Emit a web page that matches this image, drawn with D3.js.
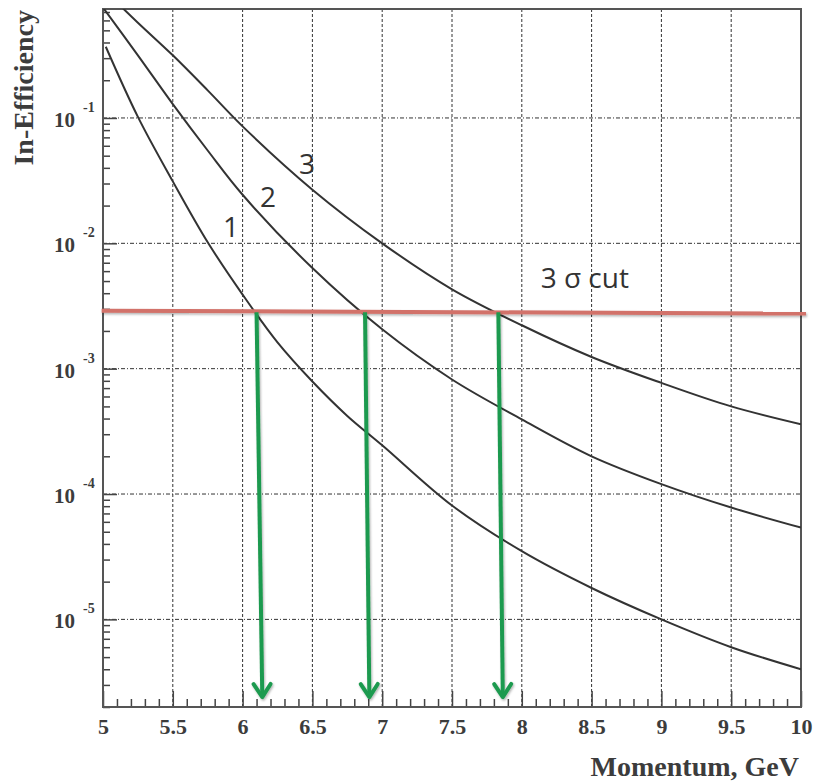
<!DOCTYPE html>
<meta charset="utf-8">
<script src="https://d3js.org/d3.v7.min.js"></script>
<style>
  body { margin: 0; background: #fff; }
  .tick-lbl { font-family: "Liberation Serif", "DejaVu Serif", serif; font-weight: bold; fill: #3c3c3c; }
  .ann { font-family: "Open Sans", "Liberation Sans", sans-serif; fill: #333; }
</style>
<div id="chart"></div>
<script>
// momentum (GeV) and in-efficiency
var p1 = [5.02, 5.25, 5.5, 5.75, 6, 6.25, 6.5, 6.75, 7, 7.5, 8, 8.5, 9, 9.5, 10];
var eff1 = [3.7e-1, 1.02e-1, 3.12e-2, 1.02e-2, 3.9e-3, 1.62e-3, 7.9e-4, 4.2e-4, 2.45e-4, 8.1e-5, 3.5e-5, 1.78e-5, 1.0e-5, 6.0e-6, 4.0e-6];

var p2 = [5, 5.25, 5.5, 5.75, 6, 6.5, 7, 7.5, 8, 8.5, 9, 9.5, 10];
var eff2 = [7.6e-1, 3.16e-1, 1.29e-1, 5.5e-2, 2.44e-2, 6.35e-3, 2.06e-3, 8.2e-4, 3.94e-4, 2.0e-4, 1.2e-4, 7.8e-5, 5.4e-5];

var p3 = [5, 5.25, 5.5, 5.75, 6, 6.5, 7, 7.5, 8, 8.5, 9, 9.5, 10];
var eff3 = [1.07, 5.75e-1, 3.16e-1, 1.66e-1, 8.57e-2, 2.68e-2, 1.0e-2, 4.3e-3, 2.22e-3, 1.24e-3, 7.7e-4, 5.0e-4, 3.6e-4];

// 3 sigma cut line and the arrows dropped from its crossings
var cutP = [4.99, 10.036];
var cutEff = [2.9e-3, 2.75e-3];
var arrowTopP = [6.10, 6.877, 7.832];
var arrowTipP = [6.141, 6.908, 7.864];
var arrowTopEff = 2.82e-3;
var arrowTipEff = 2.4e-6;

// curve labels
var labelText = ["1", "2", "3", "3 \u03c3 cut"];
var labelP = [5.86, 6.125, 6.404, 8.135];
var labelEff = [1.13e-2, 1.96e-2, 3.59e-2, 4.43e-3];

// axes
var xMajor = [5, 5.5, 6, 6.5, 7, 7.5, 8, 8.5, 9, 9.5, 10];
var xMajorLabels = ["5", "5.5", "6", "6.5", "7", "7.5", "8", "8.5", "9", "9.5", "10"];
var yDecades = [1e-1, 1e-2, 1e-3, 1e-4, 1e-5];
var yExponents = ["-1", "-2", "-3", "-4", "-5"];

//----------------drawing---------------------
var margin = {top: 9, left: 103}, width = 698, height = 698;

var x = d3.scaleLinear().domain([5, 10]).range([0, width]);
var y = d3.scaleLog().domain([2e-6, 0.74]).range([height, 0]);

var svg = d3.select("#chart")
  .append("svg")
  .attr("width", 815)
  .attr("height", 783);

var defs = svg.append("defs");
defs.append("clipPath").attr("id", "plotclip")
  .append("rect").attr("width", width).attr("height", height);

// soft shadow under the hand-drawn red / green marks
defs.append("filter").attr("id", "shadow")
  .attr("filterUnits", "userSpaceOnUse")
  .attr("x", -120).attr("y", -20).attr("width", 960).attr("height", 760)
  .append("feDropShadow")
  .attr("dx", 1).attr("dy", 1.5).attr("stdDeviation", 1.3)
  .attr("flood-color", "#000").attr("flood-opacity", 0.3);

defs.append("marker").attr("id", "head")
  .attr("markerUnits", "userSpaceOnUse")
  .attr("viewBox", "-18 -12 22 24")
  .attr("refX", 0).attr("refY", 0)
  .attr("markerWidth", 22).attr("markerHeight", 24)
  .attr("orient", "auto")
  .append("path")
  .attr("d", "M-13,-8.5L0,0L-13,8.5")
  .attr("fill", "none")
  .attr("stroke", "#1f9a4f")
  .attr("stroke-width", 4)
  .attr("stroke-linecap", "round")
  .attr("stroke-linejoin", "round");

var g = svg.append("g")
  .attr("transform", "translate(" + margin.left + "," + margin.top + ")");

// minor tick values
var xMinor = d3.range(51, 100).map(function(d) { return d / 10; })
  .filter(function(d) { return Math.abs(d * 2 - Math.round(d * 2)) > 1e-6; });
var yMinor = [];
[1e-6, 1e-5, 1e-4, 1e-3, 1e-2, 1e-1].forEach(function(dec) {
  for (var k = 2; k <= 9; k++) {
    var v = dec * k;
    if (v >= 2e-6 && v <= 0.74) yMinor.push(v);
  }
});

// grid
g.append("g").selectAll("line")
  .data(xMajor.slice(1, -1))
  .enter().append("line")
  .attr("x1", function(d) { return x(d); })
  .attr("x2", function(d) { return x(d); })
  .attr("y1", 0).attr("y2", height)
  .attr("stroke", "#333").attr("stroke-width", 1)
  .attr("stroke-dasharray", "3,2");

g.append("g").selectAll("line")
  .data(yDecades)
  .enter().append("line")
  .attr("x1", 0).attr("x2", width)
  .attr("y1", function(d) { return y(d); })
  .attr("y2", function(d) { return y(d); })
  .attr("stroke", "#333").attr("stroke-width", 1)
  .attr("stroke-dasharray", "4,2,1,2");

// ticks (inside the frame)
g.append("g")
  .attr("transform", "translate(0," + height + ")")
  .call(d3.axisBottom(x).tickValues(xMinor).tickSize(-8).tickFormat(""))
  .call(function(a) { a.select(".domain").remove(); a.selectAll("line").attr("stroke", "#444").attr("stroke-width", 1.5); });

var xAx = g.append("g")
  .attr("transform", "translate(0," + height + ")")
  .call(d3.axisBottom(x).tickValues(xMajor).tickSize(-16).tickPadding(11)
    .tickFormat(function(d, i) { return xMajorLabels[i]; }));
xAx.select(".domain").remove();
xAx.selectAll("line").attr("stroke", "#444").attr("stroke-width", 1.5);
xAx.selectAll("text").attr("class", "tick-lbl").style("font-size", "22px").attr("fill", null);

g.append("g")
  .call(d3.axisLeft(y).tickValues(yMinor).tickSize(-7).tickFormat(""))
  .call(function(a) { a.select(".domain").remove(); a.selectAll("line").attr("stroke", "#444").attr("stroke-width", 1.5); });

g.append("g")
  .call(d3.axisLeft(y).tickValues(yDecades).tickSize(-14).tickFormat(""))
  .call(function(a) { a.select(".domain").remove(); a.selectAll("line").attr("stroke", "#444").attr("stroke-width", 1.5); });

// y labels as 10^n
var yl = g.append("g").selectAll("g")
  .data(yDecades)
  .enter().append("g")
  .attr("transform", function(d) { return "translate(0," + y(d) + ")"; });
yl.append("text")
  .attr("class", "tick-lbl")
  .attr("x", -28).attr("y", 9)
  .attr("text-anchor", "end")
  .style("font-size", "21px")
  .text("10");
yl.append("text")
  .attr("class", "tick-lbl")
  .attr("x", -20).attr("y", -6)
  .style("font-size", "14px")
  .text(function(d, i) { return yExponents[i]; });

// frame
g.append("rect")
  .attr("width", width).attr("height", height)
  .attr("fill", "none")
  .attr("stroke", "#555").attr("stroke-width", 2);

// curves
var line = d3.line()
  .x(function(d) { return x(d[0]); })
  .y(function(d) { return y(d[1]); })
  .curve(d3.curveCatmullRom.alpha(0.5));

var curves = [d3.zip(p1, eff1), d3.zip(p2, eff2), d3.zip(p3, eff3)];
g.append("g").attr("clip-path", "url(#plotclip)")
  .selectAll("path")
  .data(curves)
  .enter().append("path")
  .attr("d", line)
  .attr("fill", "none")
  .attr("stroke", "#333")
  .attr("stroke-width", 2);

// 3 sigma cut
g.append("path")
  .datum(d3.zip(cutP, cutEff))
  .attr("d", d3.line().x(function(d) { return x(d[0]); }).y(function(d) { return y(d[1]); }))
  .attr("stroke", "#d2726a")
  .attr("stroke-width", 4)
  .attr("fill", "none")
  .attr("filter", "url(#shadow)");

// arrows
g.append("g").selectAll("line")
  .data(arrowTopP)
  .enter().append("line")
  .attr("x1", function(d) { return x(d); })
  .attr("y1", y(arrowTopEff))
  .attr("x2", function(d, i) { return x(arrowTipP[i]); })
  .attr("y2", y(arrowTipEff))
  .attr("stroke", "#1f9a4f")
  .attr("stroke-width", 4)
  .attr("marker-end", "url(#head)")
  .attr("filter", "url(#shadow)");

// annotations
g.append("g").selectAll("text")
  .data(labelText)
  .enter().append("text")
  .attr("class", "ann")
  .attr("x", function(d, i) { return x(labelP[i]); })
  .attr("y", function(d, i) { return y(labelEff[i]); })
  .style("font-size", "28px")
  .text(function(d) { return d; });

// axis titles
svg.append("text")
  .attr("class", "tick-lbl")
  .attr("transform", "translate(33,10) rotate(-90)")
  .attr("text-anchor", "end")
  .style("font-size", "28px")
  .text("In-Efficiency");

svg.append("text")
  .attr("class", "tick-lbl")
  .attr("x", 799).attr("y", 776)
  .attr("text-anchor", "end")
  .style("font-size", "28px")
  .text("Momentum, GeV");
</script>
